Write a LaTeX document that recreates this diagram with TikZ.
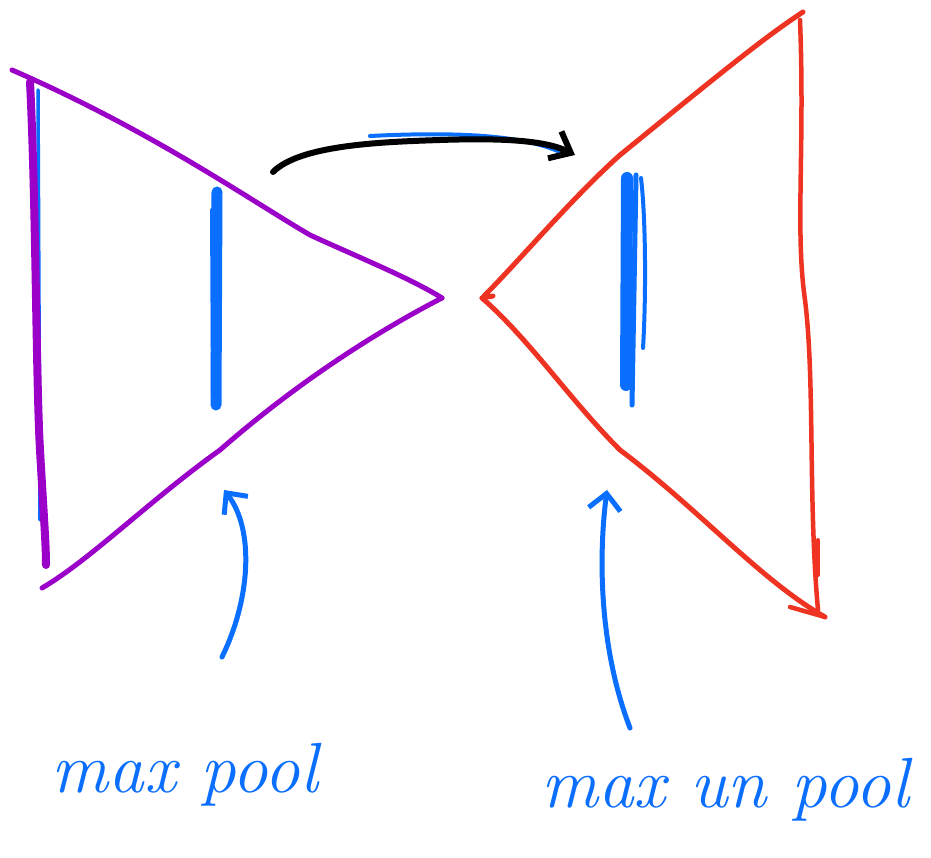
\documentclass[tikz,border=0pt]{standalone}
\usetikzlibrary{arrows.meta}
\definecolor{pur}{HTML}{9B00C8}
\definecolor{rd}{HTML}{EE3322}
\definecolor{bl}{HTML}{0A6EFF}
\begin{document}
\begin{tikzpicture}[x=1pt,y=-1pt,line cap=round,line join=round,
  pen/.style={line width=5pt},
  lbl/.style={text=bl,font=\fontsize{71}{71}\selectfont\itshape,inner sep=0pt}]
\useasboundingbox[fill=white] (0,0) rectangle (931,858);
% purple triangle
\coordinate (ptl) at (12,70);
\coordinate (pap) at (442,298);
\coordinate (pbl) at (42,588);
\draw[pen,pur] (ptl) .. controls (150,130) and (250,200) .. (310,235) .. controls (360,258) and (410,278) .. (pap);
\draw[pen,pur] (pap) .. controls (380,330) and (300,380) .. (220,450) .. controls (150,500) and (90,560) .. (pbl);
\coordinate (pv1) at (30,82);
\coordinate (pv2) at (46,565);
\draw[line width=3.5pt,bl] (38,90) -- (40,520);
\draw[line width=8pt,pur] (pv1) .. controls (36,200) and (36,380) .. (40,450) .. controls (44,520) and (46,545) .. (pv2);
% red triangle
\coordinate (rap) at (482,298);
\coordinate (rtr) at (803,12);
\coordinate (rbr) at (825,617);
\draw[pen,rd] (484,296) .. controls (520,260) and (570,200) .. (620,155) .. controls (700,90) and (760,40) .. (rtr);
\draw[pen,rd] (rap) .. controls (530,340) and (570,400) .. (620,450) .. controls (700,510) and (760,580) .. (rbr);
\draw[pen,rd] (rap) -- (493,296);
\draw[line width=4.5pt,rd] (800,20) .. controls (805,150) and (795,230) .. (805,300) .. controls (815,380) and (808,500) .. (818,610);
\draw[line width=4pt,rd] (818,540) -- (818,575);
\draw[line width=4.5pt,rd] (790,607) -- (825,617);
% blue bars
\draw[line width=11pt,bl] (217,192) -- (216,405);
\draw[line width=4pt,bl] (212,210) -- (213,395);
\draw[line width=12pt,bl] (627,178) -- (626,385);
\draw[line width=5pt,bl] (636,175) -- (632,405);
\draw[line width=4pt,bl] (641,178) .. controls (646,220) and (646,300) .. (643,348);
% black arrow
\coordinate (a1) at (273,172);
\coordinate (a2) at (575,155);
\draw[line width=4pt,bl] (370,136) .. controls (450,132) and (520,134) .. (560,152);
\draw[line width=6pt,black,-{Straight Barb[length=18pt,width=30pt]}] (a1) .. controls (300,145) and (380,142) .. (440,140) .. controls (500,138) and (545,140) .. (a2);
% blue arrows
\coordinate (b1) at (222,657);
\coordinate (b2) at (224,490);
\draw[pen,bl,-{Straight Barb[length=16pt,width=30pt]}] (b1) .. controls (250,600) and (255,530) .. (b2);
\coordinate (c1) at (630,728);
\coordinate (c2) at (607,490);
\draw[pen,bl,-{Straight Barb[length=16pt,width=32pt]}] (c1) .. controls (600,650) and (598,560) .. (c2);
% labels
\node[lbl] (t1) at (185,775) {max pool};
\node[lbl] (t2) at (725,790) {max un pool};
\end{tikzpicture}
\end{document}
